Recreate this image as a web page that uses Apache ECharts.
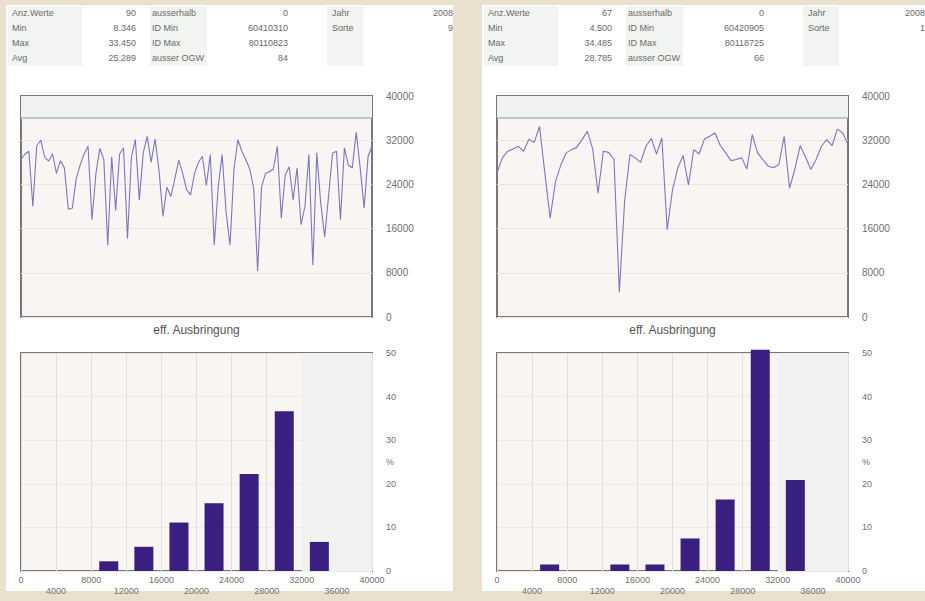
<!DOCTYPE html>
<html>
<head>
<meta charset="utf-8">
<script src="https://cdn.jsdelivr.net/npm/echarts@6/dist/echarts.min.js"></script>
<style>
  html, body { margin: 0; padding: 0; background: #e9e1cd; }
  #wrap { position: relative; width: 925px; height: 601px; overflow: hidden; }
  .panel { position: absolute; background: #ffffff; }
  #c { position: absolute; left: 0; top: 0; width: 925px; height: 601px; }
</style>
</head>
<body>
<div id="wrap">
  <div class="panel" style="left:6px;top:5px;width:447px;height:586px;"></div>
  <div class="panel" style="left:482px;top:5px;width:443px;height:586px;"></div>
  <div id="c"></div>
</div>
<script>
// Measured values per sample, left and right sheet
const valuesA = [
  28500, 29500, 30000, 20000, 31000, 32000, 29000, 28200, 29500, 26000,
  28300, 27000, 19500, 19700, 25000, 27500, 29500, 30900, 17600, 26000,
  30500, 28500, 13000, 29000, 19300, 29500, 30600, 14200, 29000, 32100,
  21200, 29700, 32700, 28000, 32200, 26500, 18200, 23500, 21800, 25000,
  28400, 26000, 23000, 22100, 26000, 28000, 29100, 23800, 29400, 13000,
  23500, 29400, 19000, 13000, 26700, 32100, 30000, 28500, 26800, 23300,
  8346, 23600, 26000, 26300, 26800, 30900, 17900, 25700, 27200, 21200,
  27000, 16700, 20000, 29400, 9400, 29700, 20600, 14500, 22000, 29700,
  30000, 17600, 30600, 27500, 27000, 33450, 27000, 19700, 29000, 30900
];
const valuesB = [
  26100, 28800, 30000, 30400, 30900, 30000, 32200, 31600, 34485, 26000,
  17900, 24500, 27500, 29700, 30300, 30700, 32100, 33600, 30400, 22400,
  30000, 29800, 28500, 4500, 21000, 29400, 28800, 28000, 30900, 32300,
  29500, 32400, 15800, 23000, 27000, 29200, 23900, 30300, 29500, 32200,
  32700, 33300, 31000, 29700, 28300, 28500, 28800, 26800, 33000, 29700,
  28500, 27300, 27000, 27600, 32700, 23300, 26700, 31000, 29000, 26700,
  28500, 30900, 32100, 31000, 34000, 33300, 31200
];

// Histogram classes and axis ticks
const binEdges = [0, 4000, 8000, 12000, 16000, 20000, 24000, 28000, 32000, 36000, 40000];
const valueTicks = [0, 8000, 16000, 24000, 32000, 40000];
const pctTicks = [0, 10, 20, 30, 40, 50];
const upperLimit = 36000;
const histShadeFrom = 32000;

// Header tables
const statsA = [
  ['Anz.Werte', '90', 'ausserhalb', '0'],
  ['Min', '8.346', 'ID Min', '60410310'],
  ['Max', '33.450', 'ID Max', '80110823'],
  ['Avg', '25.289', 'ausser OGW', '84']
];
const sideA = [['Jahr', '2008'], ['Sorte', '9']];
const statsB = [
  ['Anz.Werte', '67', 'ausserhalb', '0'],
  ['Min', '4.500', 'ID Min', '60420905'],
  ['Max', '34.485', 'ID Max', '80118725'],
  ['Avg', '28.785', 'ausser OGW', '66']
];
const sideB = [['Jahr', '2008'], ['Sorte', '1']];

// Percentage of values per class, plotted at the class centre
function histogram(vals) {
  const out = [];
  for (let i = 0; i < binEdges.length - 1; i++) {
    const lo = binEdges[i], hi = binEdges[i + 1];
    const n = vals.filter(v => v >= lo && v < hi).length;
    if (n > 0) out.push([(lo + hi) / 2, n / vals.length * 100]);
  }
  return out;
}

const FONT = '"Liberation Sans", Arial, sans-serif';
const labelColor = '#707070';
const plotBg = '#f8f5f3';
const bandBg = '#f0f2ef';
const frame = '#787878';

function lineGrid(left) {
  return { left: left, top: 96, width: 351, height: 221, show: true,
           backgroundColor: plotBg, borderColor: frame, borderWidth: 2 };
}
function histGrid(left) {
  return { left: left, top: 353, width: 351, height: 218, show: true,
           backgroundColor: plotBg, borderColor: frame, borderWidth: 2 };
}
function lineX(gi, n) {
  return {
    gridIndex: gi, type: 'category', boundaryGap: false,
    data: Array.from({ length: n }, (_, i) => i + 1),
    axisLine: { show: false }, axisTick: { show: false }, axisLabel: { show: false },
    splitLine: { show: false },
    name: 'eff. Ausbringung', nameLocation: 'middle', nameGap: 7,
    nameTextStyle: { fontFamily: FONT, fontSize: 12, color: '#555' }
  };
}
function lineY(gi) {
  return {
    gridIndex: gi, type: 'value', position: 'right',
    min: valueTicks[0], max: valueTicks[valueTicks.length - 1], interval: valueTicks[1] - valueTicks[0],
    axisLine: { show: false }, axisTick: { show: false },
    axisLabel: { margin: 14, fontFamily: FONT, fontSize: 10, color: labelColor, formatter: v => String(v) },
    splitLine: { show: true, lineStyle: { color: '#ece7e5', width: 1 } }
  };
}
function histX(gi) {
  return {
    gridIndex: gi, type: 'value', min: 0, max: 40000, interval: 4000,
    axisLine: { show: false }, axisTick: { show: false },
    axisLabel: {
      margin: 3, fontFamily: FONT, fontSize: 9, color: labelColor, lineHeight: 11,
      showMinLabel: true, showMaxLabel: true,
      formatter: v => (valueTicks.indexOf(v) >= 0 ? String(v) : '\n' + v)
    },
    splitLine: { show: true, lineStyle: { color: '#e4dddd', width: 1 } }
  };
}
function histY(gi) {
  return {
    gridIndex: gi, type: 'value', position: 'right',
    min: pctTicks[0], max: pctTicks[pctTicks.length - 1], interval: pctTicks[1] - pctTicks[0],
    axisLine: { show: false }, axisTick: { show: false },
    axisLabel: { margin: 14, fontFamily: FONT, fontSize: 9, color: labelColor, formatter: v => String(v) },
    splitLine: { show: true, lineStyle: { color: '#eee9e8', width: 1 } }
  };
}
function lineSeries(idx, vals) {
  return {
    type: 'line', xAxisIndex: idx, yAxisIndex: idx, data: vals,
    showSymbol: false, symbol: 'none', silent: true,
    lineStyle: { color: '#7d76bf', width: 1.1 },
    markArea: { silent: true, itemStyle: { color: bandBg },
                data: [[{ yAxis: upperLimit }, { yAxis: valueTicks[valueTicks.length - 1] }]] },
    markLine: { silent: true, symbol: 'none', label: { show: false },
                lineStyle: { color: '#a9b8c6', type: 'solid', width: 1.5 },
                data: [{ yAxis: upperLimit }] }
  };
}
function barSeries(idx, vals) {
  return {
    type: 'bar', xAxisIndex: idx, yAxisIndex: idx, data: histogram(vals),
    barWidth: 19, clip: false, silent: true,
    itemStyle: { color: '#3b1f80' },
    markArea: { silent: true, itemStyle: { color: bandBg },
                data: [[{ xAxis: histShadeFrom }, { xAxis: 40000 }]] }
  };
}

// Header table drawn as text cells
function header(px, stats, side, sideRight) {
  const els = [];
  const rowsY = [13, 28, 43, 58];
  [[2, 74], [144, 57], [321, 36]].forEach(c => {
    els.push({ type: 'rect', shape: { x: px + c[0], y: 6, width: c[1], height: 60 },
               style: { fill: '#f1f4f0' }, z: 0, silent: true });
  });
  const ts = (t, x, y, align) => ({
    type: 'text', x: x, y: y, z: 5, silent: true,
    style: { text: t, fill: '#6a6a6a', font: '9px ' + FONT, textAlign: align, textVerticalAlign: 'middle' }
  });
  stats.forEach((r, i) => {
    els.push(ts(r[0], px + 6, rowsY[i], 'left'));
    els.push(ts(r[1], px + 130, rowsY[i], 'right'));
    els.push(ts(r[2], px + 146, rowsY[i], 'left'));
    els.push(ts(r[3], px + 282, rowsY[i], 'right'));
  });
  side.forEach((r, i) => {
    els.push(ts(r[0], px + 326, rowsY[i], 'left'));
    els.push(ts(r[1], sideRight, rowsY[i], 'right'));
  });
  return els;
}

const chart = echarts.init(document.getElementById('c'), null, { renderer: 'svg', width: 925, height: 601 });
chart.setOption({
  animation: false,
  backgroundColor: 'transparent',
  grid: [lineGrid(21), lineGrid(497), histGrid(21), histGrid(497)],
  xAxis: [lineX(0, valuesA.length), lineX(1, valuesB.length), histX(2), histX(3)],
  yAxis: [lineY(0), lineY(1), histY(2), histY(3)],
  series: [lineSeries(0, valuesA), lineSeries(1, valuesB), barSeries(2, valuesA), barSeries(3, valuesB)]
});

// Unit label beside the percentage axis, at mid-height
const pctLabels = [2, 3].map(gi => {
  const p = chart.convertToPixel({ gridIndex: gi }, [40000, 25]);
  return {
    type: 'text', x: p[0] + 14, y: p[1], silent: true,
    style: { text: '%', fill: labelColor, font: '9px ' + FONT, textVerticalAlign: 'middle' }
  };
});

chart.setOption({
  graphic: [].concat(header(6, statsA, sideA, 453), header(482, statsB, sideB, 925), pctLabels)
});
</script>
</body>
</html>
